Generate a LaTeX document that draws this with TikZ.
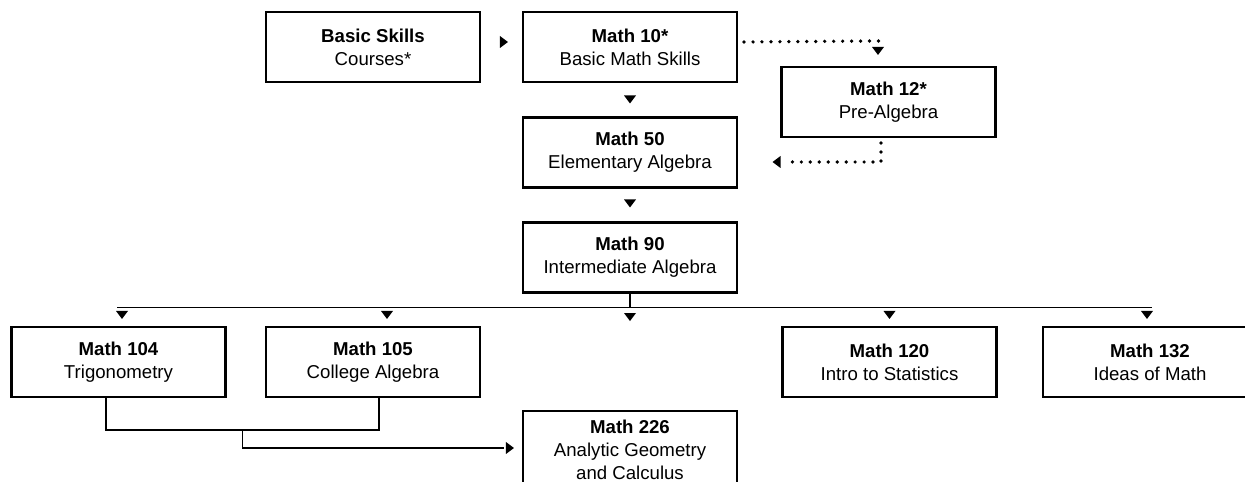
\documentclass[tikz,border=0pt]{standalone}
\usepackage{fontspec}
\setmainfont{Liberation Sans}
\usetikzlibrary{calc}

\newcommand{\tridown}[1]{\fill #1 -- ++(-0.12,0.16) -- ++(0.24,0) -- cycle;}
\newcommand{\triright}[1]{\fill #1 -- ++(-0.16,0.12) -- ++(0,-0.24) -- cycle;}
\newcommand{\trileft}[1]{\fill #1 -- ++(0.16,0.12) -- ++(0,-0.24) -- cycle;}

\begin{document}
\begin{tikzpicture}[
    course/.style={draw=black, line width=1.2pt, minimum width=4.28cm, minimum height=1.4cm, align=center, inner sep=2pt, font=\fontsize{10.6pt}{13.1pt}\selectfont},
    link/.style={draw=black, line width=1pt},
    dotline/.style={draw=black, line width=2.1pt, line cap=round, dash pattern=on 0pt off 5.1pt}]
        \useasboundingbox (0,0) rectangle (24.9,9.64);
        \clip (0,0) rectangle (24.9,9.64);
        \node[course] (bs) at (7.46,8.7) {\textbf{Basic Skills}\\Courses*};
        \node[course] (m10) at (12.6,8.7) {\textbf{Math 10*}\\Basic Math Skills};
        \node[course] (m12) at (17.77,7.6) {\textbf{Math 12*}\\Pre-Algebra};
        \node[course] (m50) at (12.6,6.59) {\textbf{Math 50}\\Elementary Algebra};
        \node[course] (m90) at (12.6,4.49) {\textbf{Math 90}\\Intermediate Algebra};
        \node[course] (m104) at (2.37,2.4) {\textbf{Math 104}\\Trigonometry};
        \node[course] (m105) at (7.46,2.4) {\textbf{Math 105}\\College Algebra};
        \node[course] (m120) at (17.79,2.4) {\textbf{Math 120}\\Intro to Statistics};
        \node[course] (m132) at (23.0,2.4) {\textbf{Math 132}\\Ideas of Math};
        \node[course, minimum height=1.56cm] (m226) at (12.6,0.64) {\textbf{Math 226}\\Analytic Geometry\\and Calculus};
        \triright{($(m10.west)+(-0.28,0.1)$)}
        \draw[dotline] ($(m10.east)+(0.12,0.1)$) -- ($(m12.north)+(-0.17,0.5)$);
        \tridown{($(m12.north)+(-0.21,0.22)$)}
        \draw[dotline] ($(m12.south)+(-0.15,-0.1)$) |- ($(m50.east)+(1.01,-0.19)$);
        \trileft{($(m50.east)+(0.69,-0.19)$)}
        \tridown{($(m50.north)+(0,0.26)$)}
        \tridown{($(m90.north)+(0,0.28)$)}
        \draw[link] (m90.south) -- ++(0,-0.28) coordinate (br);
        \draw[link] ([xshift=-0.03cm]m104.north |- br) -- ([xshift=0.04cm]m132.north |- br);
        \tridown{($(br)+(0,-0.27)$)}
        \foreach \n/\dx in {m104/0.07, m105/0.28, m120/0, m132/-0.06}
            \tridown{($(\n.north)+(\dx,0.14)$)}
        \coordinate (jl) at ($(m104.south)+(-0.25,-0.64)$);
        \coordinate (jr) at ($(m105.south)+(0.12,-0.64)$);
        \draw[link] ([xshift=-0.25cm]m104.south) -- (jl) -- (jr) -- ([xshift=0.12cm]m105.south);
        \draw[link] ($(jl)!0.5!(jr)$) |- ($(m226.west)+(-0.36,0.04)$);
        \triright{($(m226.west)+(-0.16,0.04)$)}
    \end{tikzpicture}
\end{document}
